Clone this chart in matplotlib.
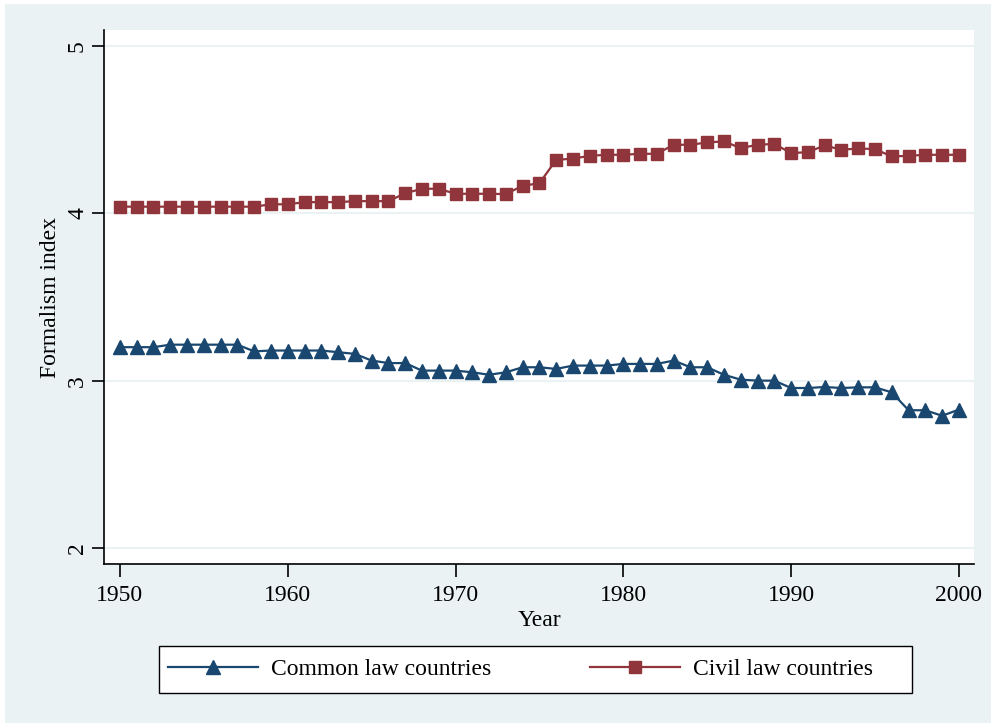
import numpy as np
import matplotlib
matplotlib.use("Agg")
import matplotlib.pyplot as plt
from matplotlib.patches import Rectangle

plt.rcParams['font.family'] = ['Liberation Serif', 'DejaVu Serif']

years = np.arange(1950, 2001)

common_law = [3.20, 3.20, 3.20, 3.215, 3.215, 3.215, 3.215, 3.215, 3.175, 3.18,
              3.18, 3.18, 3.18, 3.17, 3.16, 3.12, 3.105, 3.105, 3.06, 3.06,
              3.06, 3.05, 3.035, 3.05, 3.08, 3.08, 3.07, 3.09, 3.09, 3.09,
              3.10, 3.10, 3.10, 3.12, 3.08, 3.08, 3.035, 3.006, 3.00, 3.00,
              2.956, 2.956, 2.962, 2.956, 2.96, 2.96, 2.93, 2.823, 2.823, 2.79,
              2.827]

civil_law = [4.04, 4.04, 4.04, 4.04, 4.04, 4.04, 4.04, 4.04, 4.04, 4.054,
             4.054, 4.067, 4.067, 4.067, 4.073, 4.073, 4.073, 4.12, 4.147, 4.147,
             4.117, 4.117, 4.117, 4.115, 4.165, 4.18, 4.32, 4.327, 4.344, 4.35,
             4.35, 4.356, 4.356, 4.41, 4.41, 4.424, 4.43, 4.39, 4.41, 4.415,
             4.36, 4.366, 4.406, 4.38, 4.388, 4.384, 4.34, 4.344, 4.35, 4.35,
             4.35]

bg = '#eaf2f3'
navy = '#1a476f'
maroon = '#90353b'
W, H = 991, 723

fig = plt.figure(figsize=(W / 100, H / 100), dpi=100)
fig.patches.append(Rectangle((5 / W, 0), 1, 1 - 4 / H, transform=fig.transFigure,
                             facecolor=bg, edgecolor='none', zorder=-10))

ax = fig.add_axes([104 / W, 1 - 564 / H, 870 / W, 534 / H])
ax.set_facecolor('white')

ax.plot(years, common_law, color=navy, lw=1.6, marker='^', ms=10, label='Common law countries')
ax.plot(years, civil_law, color=maroon, lw=1.6, marker='s', ms=9, label='Civil law countries')

ax.set_xlim(1949.05, 2000.9)
ax.set_ylim(1.904, 5.096)
ax.set_xticks(np.arange(1950, 2001, 10))
ax.set_yticks([2, 3, 4, 5])
ax.grid(axis='y', color=bg, lw=1.5)
ax.set_axisbelow(True)

for s in ['top', 'right']:
    ax.spines[s].set_visible(False)
for s in ['left', 'bottom']:
    ax.spines[s].set_linewidth(1.2)

ax.tick_params(axis='both', labelsize=17, length=9, width=1.2)
ax.tick_params(axis='x', pad=6)
ax.tick_params(axis='y', pad=2.5)
for lab in ax.get_yticklabels():
    lab.set_rotation(90)
    lab.set_va('center')

ax.set_xlabel('Year', fontsize=17, labelpad=3)
ax.set_ylabel('Formalism index', fontsize=17, labelpad=4)

# legend box drawn separately, entries placed inside it
fig.patches.append(Rectangle((159 / W, 1 - 693 / H), 753 / W, 47 / H, transform=fig.transFigure,
                             facecolor='white', edgecolor='black', lw=1.0, zorder=5))
leg = fig.legend(loc='center left', bbox_to_anchor=(168 / W, 1 - 669.5 / H),
                 ncol=2, fontsize=17, frameon=False, borderpad=0, borderaxespad=0,
                 handlelength=3.8, columnspacing=4.2, handletextpad=0.55)
leg.set_zorder(6)

fig.savefig('out.png', dpi=100)
